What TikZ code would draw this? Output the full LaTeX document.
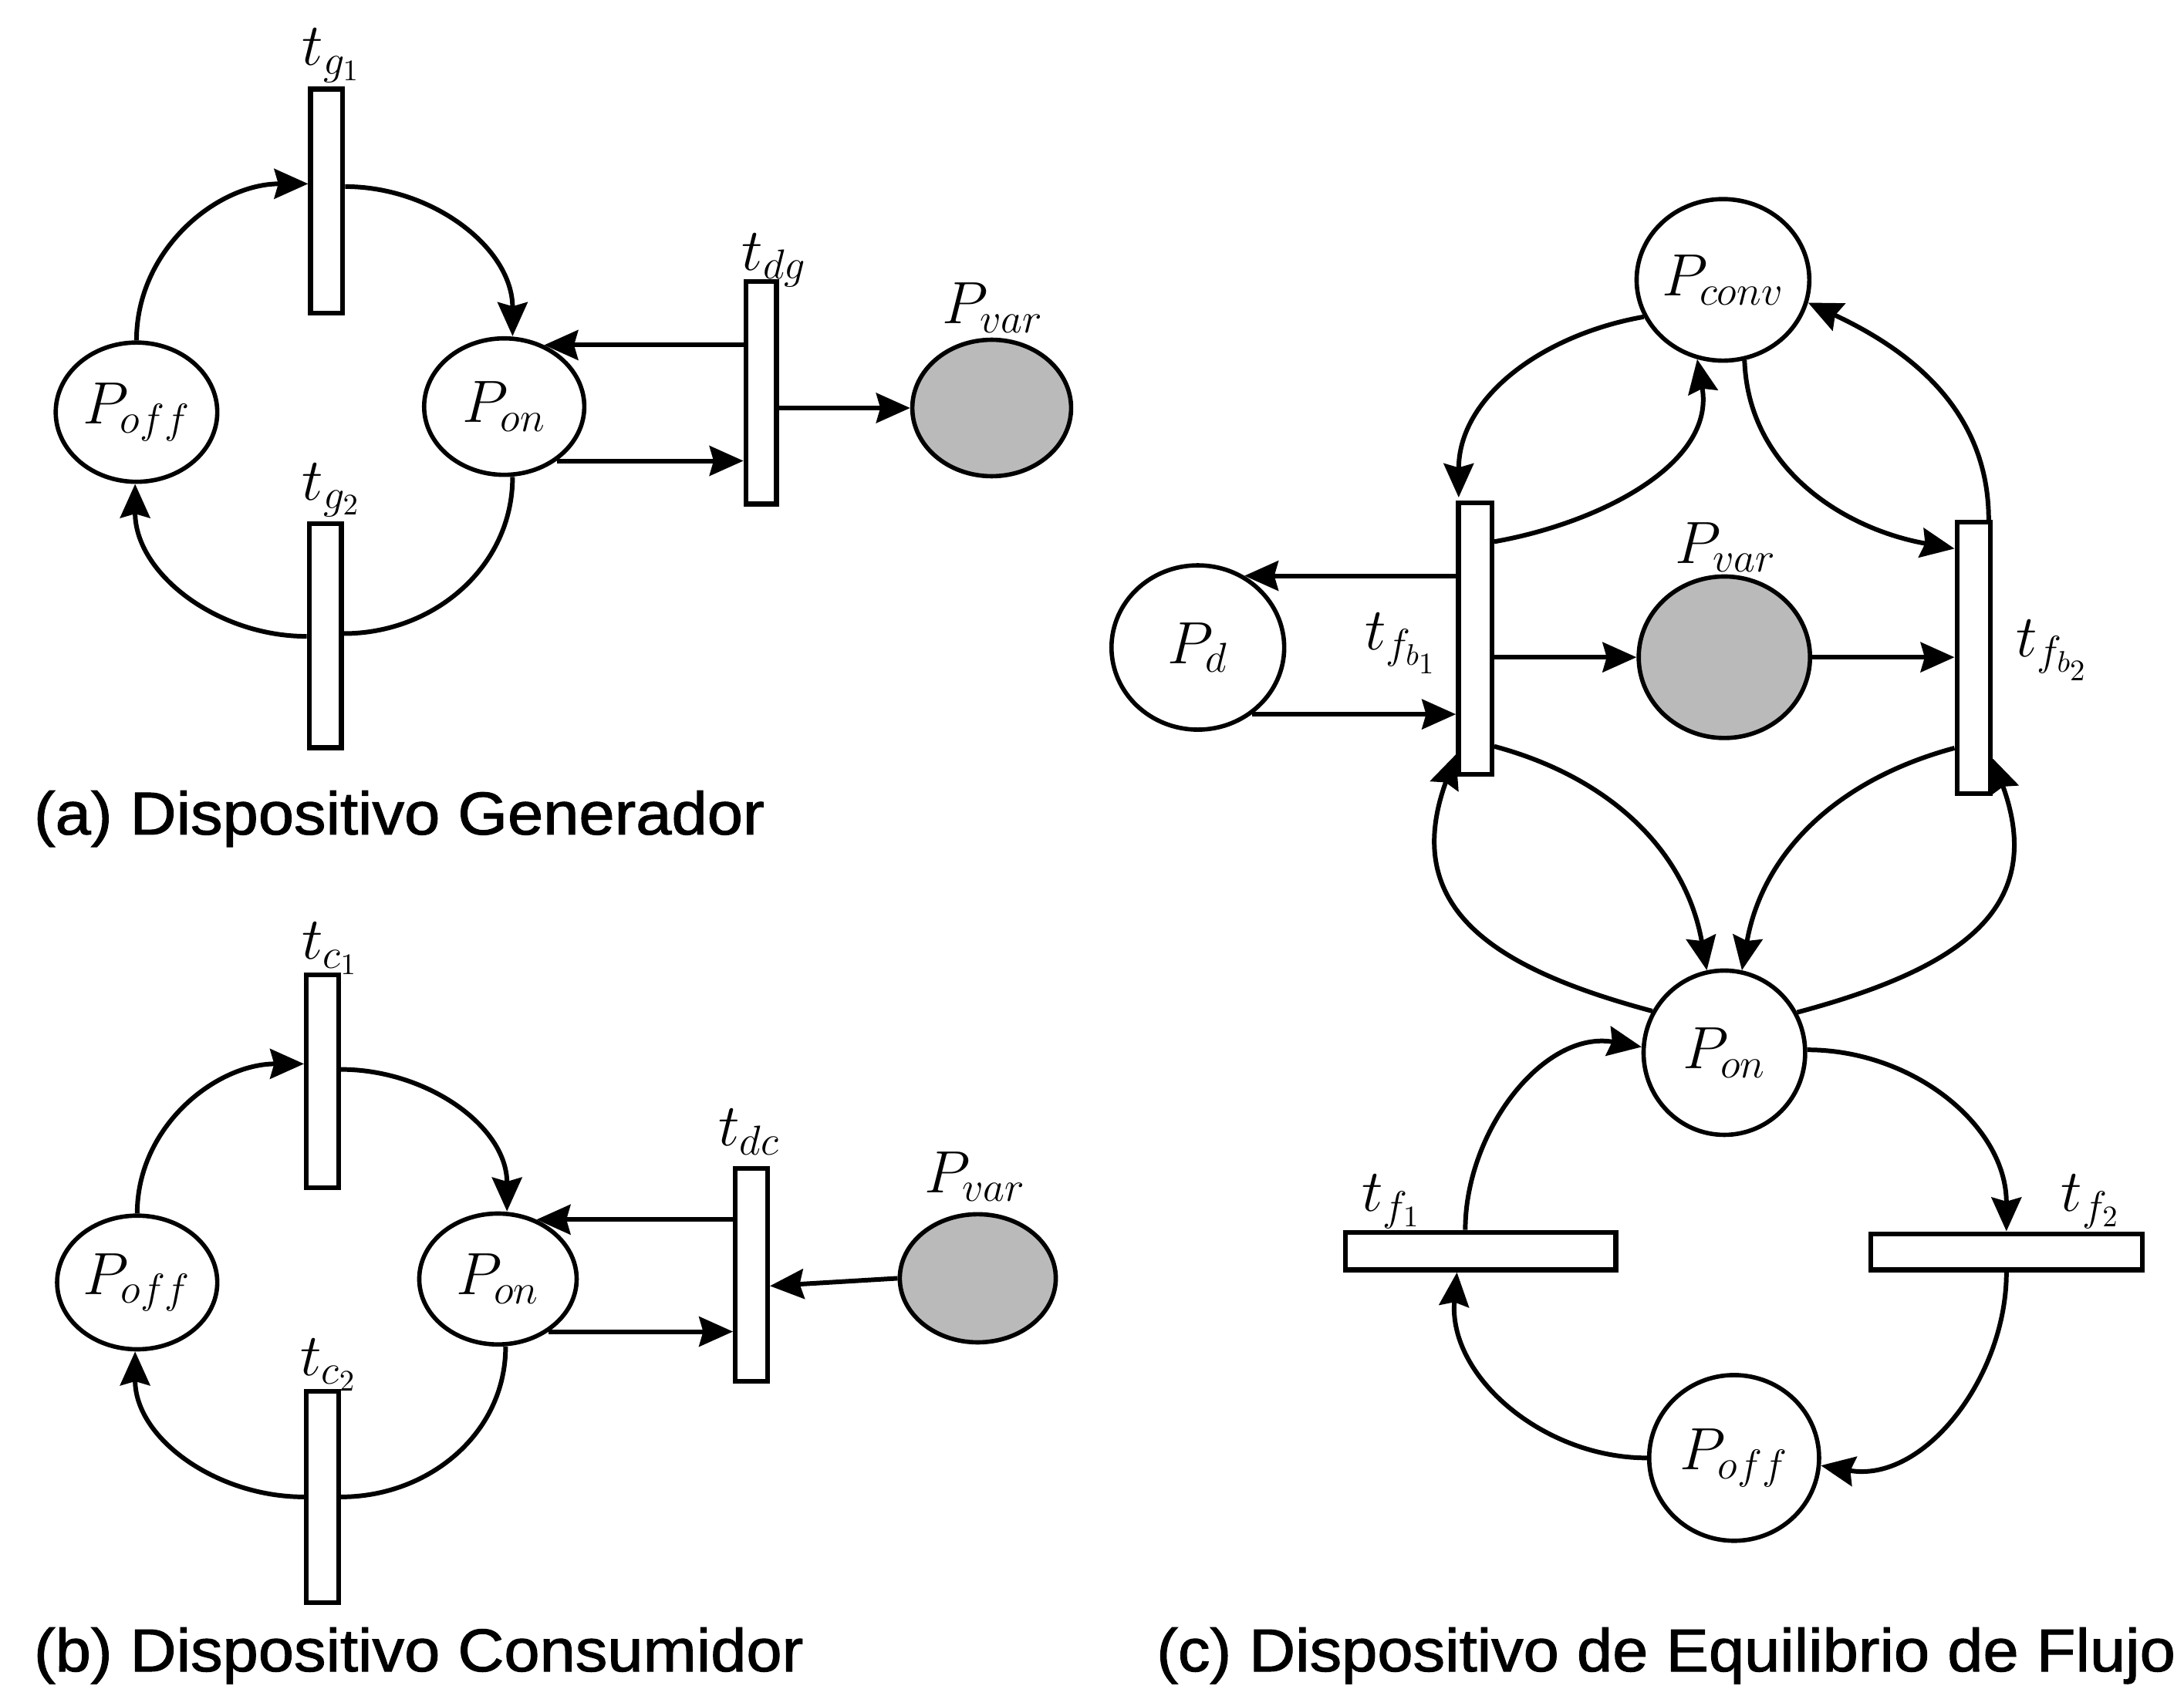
\RequirePackage{fix-cm}
\documentclass[tikz,border=0pt]{standalone}
\usepackage{fontspec}
\newfontfamily\capfont[FakeBold=1.3]{Liberation Sans}
\usetikzlibrary{shapes.geometric,arrows.meta,calc}
\newlength\pxu
\setlength\pxu{0.018055cm}
\newcommand\lblsize{\fontsize{22}{26}\selectfont}
\newcommand\capsize{\fontsize{22.3}{26}\selectfont}
\newcommand\captext[1]{\scalebox{1.06}[1]{\capfont\capsize #1}}
\tikzset{
  place/.style={draw, ellipse, line width=1.6pt, inner sep=0pt, font=\lblsize},
  varplace/.style={place, fill=black!27},
  trans/.style={draw, rectangle, line width=1.8pt, inner sep=0pt, fill=white},
  lab/.style={inner sep=1pt, font=\lblsize},
  captionnode/.style={anchor=west, inner sep=0pt},
  plain/.style={line width=1.7pt},
  arr/.style={line width=1.7pt, -{Stealth[length=12.5pt,width=11pt,inset=1.5pt]}}
}
\begin{document}
\begin{tikzpicture}[x=0.018055cm,y=-0.018055cm]
\useasboundingbox (0,0) rectangle (1568,1225);

% ---------------- (a) Dispositivo Generador ----------------
\node[place, minimum width=116\pxu, minimum height=100\pxu] (Poffa) at (98,296) {$P_{off}$};
\node[place, minimum width=115\pxu, minimum height=98\pxu] (Pona) at (362,292) {$P_{on}$};
\node[varplace, minimum width=114\pxu, minimum height=98\pxu] (Pvara) at (712,293) {};
\node[trans, minimum width=23\pxu, minimum height=161\pxu] (tga) at (234.5,144.5) {};
\node[trans, minimum width=23\pxu, minimum height=161\pxu] (tgb) at (233.5,456.5) {};
\node[trans, minimum width=22\pxu, minimum height=160\pxu] (tdg) at (546.5,282) {};
\node[lab] (Ltga) at (238,40) {$t_{g_1}$};
\node[lab] (Ltgb) at (238,352) {$t_{g_2}$};
\node[lab] (Ltdg) at (556,187) {$t_{dg}$};
\node[lab] (Lpva) at (713,221) {$P_{var}$};
\node[captionnode] (capa) at (24,588) {\captext{(a) Dispositivo Generador}};

\draw[arr] (Poffa.north) to[out=90,in=180] ($(tga.west)+(0,-12.5)$);
\draw[arr] ($(tga.east)+(0,-10.5)$) to[out=0,in=90] ($(Pona.north)+(6,0)$);
\draw[plain] ($(Pona.south)+(6,0)$) to[out=-90,in=0] ($(tgb.east)+(0,-1.5)$);
\draw[arr] ($(tgb.west)+(0,0.5)$) to[out=180,in=-90] ($(Poffa.south)+(-1,0)$);
\draw[arr] (tdg.west |- Pona.57) -- (Pona.57);
\draw[arr] (Pona.314) -- (Pona.314 -| tdg.west);
\draw[arr] (tdg.east |- Pvara.west) -- (Pvara.west);

% ---------------- (b) Dispositivo Consumidor ----------------
\node[place, minimum width=115\pxu, minimum height=96\pxu] (Poffb) at (98.5,921) {$P_{off}$};
\node[place, minimum width=113\pxu, minimum height=94\pxu] (Ponb) at (357.5,918.5) {$P_{on}$};
\node[varplace, minimum width=112\pxu, minimum height=92\pxu] (Pvarb) at (702,918) {};
\node[trans, minimum width=23\pxu, minimum height=153\pxu] (tca) at (231.5,776.5) {};
\node[trans, minimum width=23\pxu, minimum height=152\pxu] (tcb) at (231.5,1075) {};
\node[trans, minimum width=23\pxu, minimum height=153\pxu] (tdc) at (539.5,915.5) {};
\node[lab] (Ltca) at (237,681) {$t_{c_1}$};
\node[lab] (Ltcb) at (236,980) {$t_{c_2}$};
\node[lab] (Ltdc) at (538,813) {$t_{dc}$};
\node[lab] (Lpvb) at (700,845) {$P_{var}$};
\node[captionnode] (capb) at (24,1189) {\captext{(b) Dispositivo Consumidor}};

\draw[arr] (Poffb.north) to[out=90,in=180] ($(tca.west)+(0,-12.5)$);
\draw[arr] ($(tca.east)+(0,-8.5)$) to[out=0,in=90] ($(Ponb.north)+(6.5,0)$);
\draw[plain] ($(Ponb.south)+(5.5,0)$) to[out=-90,in=0] (tcb.east);
\draw[arr] (tcb.west) to[out=180,in=-90] ($(Poffb.south)+(-1.5,0)$);
\draw[arr] (tdc.west |- Ponb.57) -- (Ponb.57);
\draw[arr] (Ponb.314) -- (Ponb.314 -| tdc.west);
\draw[arr] (Pvarb.west) -- ($(tdc.east)+(0,8)$);

% ---------------- (c) Dispositivo de Equilibrio de Flujo ----------------
\node[place, minimum width=124\pxu, minimum height=116\pxu] (Pconv) at (1237,201) {$P_{conv}$};
\node[place, minimum width=124\pxu, minimum height=118\pxu] (Pd) at (860,465) {$P_d$};
\node[varplace, minimum width=123\pxu, minimum height=116\pxu] (Pvarc) at (1238,472) {};
\node[place, minimum width=116\pxu, minimum height=118\pxu] (Ponc) at (1238,756) {$P_{on}$};
\node[place, minimum width=122\pxu, minimum height=119\pxu] (Poffc) at (1245,1047) {$P_{off}$};
\node[trans, minimum width=24\pxu, minimum height=195\pxu] (tfba) at (1059,458.5) {};
\node[trans, minimum width=24\pxu, minimum height=195\pxu] (tfbb) at (1417,472.5) {};
\node[trans, minimum width=194\pxu, minimum height=27\pxu] (tfa) at (1063,898.5) {};
\node[trans, minimum width=195\pxu, minimum height=26\pxu] (tfb) at (1440.5,899) {};
\node[lab] (Lpvc) at (1239,393) {$P_{var}$};
\node[lab] (Ltfba) at (1006,462) {$t_{f_{b_1}}$};
\node[lab] (Ltfbb) at (1473.5,467) {$t_{f_{b_2}}$};
\node[lab] (Ltfa) at (999,863) {$t_{f_1}$};
\node[lab] (Ltfb) at (1501,863) {$t_{f_2}$};
\node[captionnode] (capc) at (830,1189) {\captext{(c) Dispositivo de Equilibrio de Flujo}};

\draw[arr] (Pconv.205) to[out=190,in=90] ($(tfba.north west)+(2,-2)$);
\draw[arr] ($(tfba.east)+(0,-69.5)$) to[out=10,in=-80] (Pconv.252);
\draw[arr] (Pconv.285) to[out=-88,in=170] ($(tfbb.west)+(0,-78.5)$);
\draw[arr] ($(tfbb.north east)+(-3,0)$) to[out=90,in=-25] (Pconv.345);
\draw[arr] (tfba.west |- Pd.57) -- (Pd.57);
\draw[arr] (Pd.309) -- (Pd.309 -| tfba.west);
\draw[arr] (tfba.east |- Pvarc.west) -- (Pvarc.west);
\draw[arr] (Pvarc.east) -- (Pvarc.east -| tfbb.west);
\draw[arr] ($(tfba.east)+(0,77.5)$) to[out=-15,in=100] (Ponc.102);
\draw[arr] ($(tfbb.west)+(0,64.7)$) to[out=195,in=80] (Ponc.78);
\draw[arr] (Ponc.150) to[out=165,in=-110,looseness=1.3] ($(tfba.south west)+(0,-16)$);
\draw[arr] (Ponc.29) to[out=15,in=-70,looseness=1.3] ($(tfbb.south east)+(0,-27)$);
\draw[arr] ($(tfa.north)+(-11,0)$) to[out=90,in=170] (Ponc.176);
\draw[arr] (Ponc.2) to[out=0,in=90] (tfb.north);
\draw[arr] (tfb.south) to[out=-90,in=-10] (Poffc.355);
\draw[arr] (Poffc.180) to[out=180,in=-95] ($(tfa.south)+(-17,0)$);
\end{tikzpicture}
\end{document}
